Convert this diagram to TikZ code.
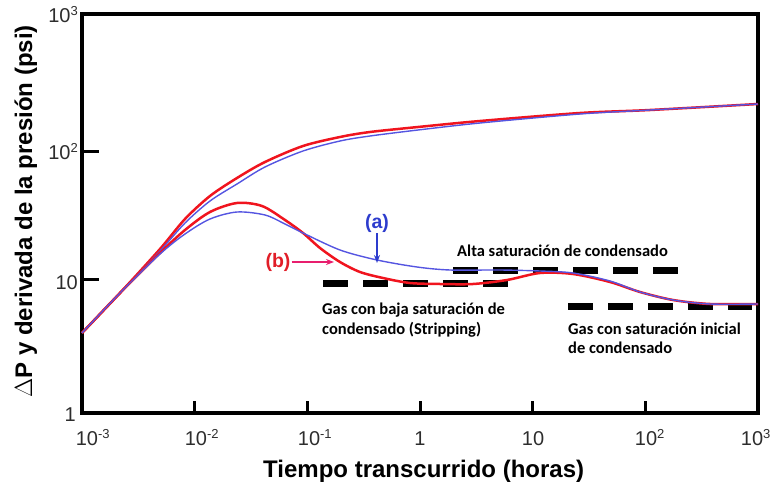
\documentclass[tikz,border=0pt]{standalone}
\usepackage{fontspec}
\setmainfont{Liberation Sans}
\newfontfamily\notefont{Carlito}
\usetikzlibrary{positioning,arrows.meta}

\definecolor{curvered}{RGB}{240,20,30}
\definecolor{curveblue}{RGB}{85,85,225}
\definecolor{tagblue}{RGB}{45,60,205}
\definecolor{tagred}{RGB}{225,30,40}
\definecolor{tagpink}{RGB}{232,30,110}
\definecolor{ticktext}{RGB}{45,45,45}

\newcommand{\supx}[1]{10\rlap{\raisebox{7pt}{\fontsize{13}{13}\selectfont #1}}}
\newcommand{\supy}[1]{10\raisebox{7pt}{\fontsize{13}{13}\selectfont #1}}

\begin{document}
\begin{tikzpicture}[x=1pt,y=-1pt,
    frame/.style={line width=4pt},
    axtick/.style={line width=3pt},
    ticklab/.style={font=\fontsize{20}{24}\selectfont, text=ticktext, inner sep=0pt},
    axlab/.style={font=\bfseries\fontsize{24}{28}\selectfont, inner sep=0pt},
    note/.style={font=\notefont\bfseries\fontsize{16.5}{20}\selectfont, inner sep=0pt},
    dashline/.style={line width=7pt, dash pattern=on 25pt off 15pt},
    redcurve/.style={curvered, line width=2.5pt, line join=round},
    bluecurve/.style={curveblue, line width=1.4pt, line join=round},
    tag/.style={font=\bfseries\fontsize{19.5}{22}\selectfont, inner sep=1pt}]
        \useasboundingbox (0,0) rectangle (774,484);

        % Frame and ticks
        \draw[frame] (82,14) rectangle (758,413);
        \foreach \i in {1,...,5}
            \draw[axtick] (82+\i*112.67,413) -- ++(0,-12);
        \draw[axtick] (82,152) -- ++(17,0);
        \draw[axtick] (82,279) -- ++(17,0);

        % Tick labels
        \foreach \lab/\px [count=\i from 0] in {\supx{-3}/87,\supx{-2}/196,\supx{-1}/309,1/420,10/533,\supx{2}/646,\supx{3}/752}
            \node[ticklab, anchor=base] (xl\i) at (\px,445) {\lab};
        \node[ticklab, anchor=base east] (yl3) at (78,23) {\supy{3}};
        \node[ticklab, anchor=base east] (yl2) at (78,160) {\supy{2}};
        \node[ticklab, anchor=base east] (yl1) at (78,289) {10};
        \node[ticklab, anchor=base east] (yl0) at (76,421) {1};

        % Axis titles
        \node[axlab, anchor=base west] (xtitle) at (263,477) {Tiempo transcurrido (horas)};
        \node[axlab, anchor=base west, rotate=90] (ytitle) at (32,398) {$\Delta$P y derivada de la presión (psi)};

        % Reference levels
        \draw[dashline] (453,270) -- (678,270);
        \draw[dashline] (323,283) -- (508,283);
        \draw[dashline] (568,306) -- (752,306);

        % Curves
        \draw[redcurve] plot[smooth] coordinates {(82,333) (120,293) (160,249) (185,219) (210,196) (237,178)
            (265,162) (303,146) (340,137) (370,132) (418,127) (480,121) (580,113) (650,110) (758,104)};
        \draw[bluecurve] plot[smooth] coordinates {(82,333) (120,293) (160,251) (185,223) (210,201) (237,184)
            (265,167) (303,151) (340,141) (370,136) (418,130) (480,123) (580,114) (650,110) (758,104)};
        \draw[redcurve] plot[smooth] coordinates {(82,333) (120,293) (160,253) (185,230) (210,212)
            (237,203) (262,206) (285,220) (303,233) (320,248) (340,262) (360,272) (383,278) (410,283)
            (440,284) (473,284) (507,280) (540,273) (573,274) (610,282) (640,292) (673,300) (710,304) (758,304)};
        \draw[bluecurve] plot[smooth] coordinates {(82,333) (120,293) (160,254) (185,234) (210,219) (237,212)
            (265,215) (285,224) (303,233) (340,250) (377,260) (417,267) (450,270) (500,270) (540,271) (573,273)
            (610,281) (640,292) (673,300) (710,304) (758,304)};

        % Notes
        \node[note, anchor=base west] (high) at (457,256) {Alta saturación de condensado};
        \node[note, anchor=base west] (low1) at (322,314) {Gas con baja saturación de};
        \node[note, anchor=base west] (low2) at ([yshift=-20pt]low1.base west) {condensado (Stripping)};
        \node[note, anchor=base west] (init1) at (568,334) {Gas con saturación inicial};
        \node[note, anchor=base west] (init2) at ([yshift=-19pt]init1.base west) {de condensado};

        % Tags
        \node[tag, text=tagblue] (a) at (377,223) {(a)};
        \coordinate (aend) at (377,263);
        \draw[tagblue, line width=1.3pt, -{Stealth[length=8pt,width=6pt]}] (a) -- (aend);
        \node[tag, text=tagred] (b) at (278,262) {(b)};
        \coordinate (bend) at (334,262);
        \draw[tagpink, line width=1.3pt, -{Stealth[length=8pt,width=6pt]}] (b) -- (bend);
\end{tikzpicture}
\end{document}
